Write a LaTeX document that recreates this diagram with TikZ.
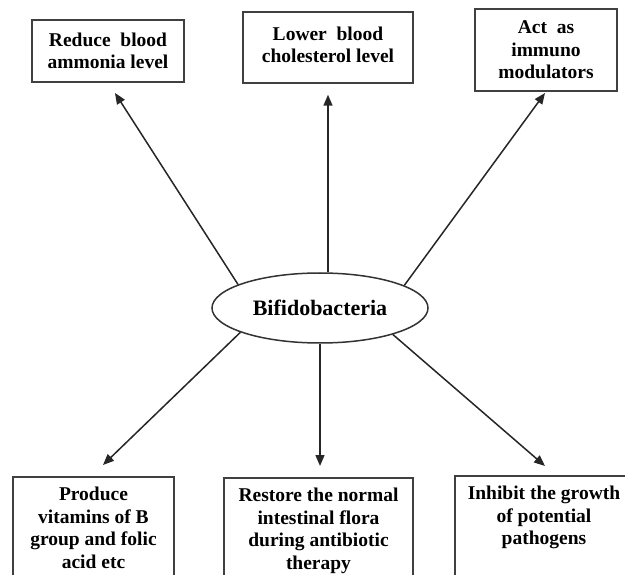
\documentclass[tikz,border=0pt]{standalone}
\usepackage{fontspec}
\setmainfont{Liberation Serif}
\usetikzlibrary{arrows.meta,shapes.geometric}
\begin{document}
\begin{tikzpicture}[x=1pt,y=-1pt,
  box/.style={draw=black!75,line width=1.5pt,inner sep=0pt},
  boxtext/.style={align=center,font=\fontsize{19.5}{22.5}\selectfont\bfseries,inner sep=0pt},
  arr/.style={draw=black!85,line width=1.5pt,-{Triangle[length=11pt,width=9pt]}}]
\useasboundingbox (0,0) rectangle (625,575);
\clip (0,0) rectangle (625,575);
% top boxes
\node[box,minimum width=152pt,minimum height=62pt] (b1) at (108,51) {};
\node[boxtext] (t1) at (b1) {Reduce~~blood\\ammonia level};
\node[box,minimum width=170pt,minimum height=71pt] (b2) at (328,47.5) {};
\node[boxtext] (t2) at (328,45) {Lower~~blood\\cholesterol level};
\node[box,minimum width=142pt,minimum height=82pt] (b3) at (546,50) {};
\node[boxtext] (t3) at (b3) {Act~~as\\immuno\\modulators};
% centre
\node[draw=black!80,line width=1.5pt,ellipse,minimum width=216pt,minimum height=70pt,inner sep=0pt,
      font=\fontsize{22}{26}\selectfont\bfseries] (ell) at (320,308) {Bifidobacteria};
% bottom boxes
\node[box,anchor=north,minimum width=161pt,minimum height=130pt] (b4) at (93.5,476) {};
\node[boxtext,anchor=north] (t4) at ([yshift=-11pt]b4.north) {Produce\\vitamins of B\\group and folic\\acid etc};
\node[box,anchor=north,minimum width=189pt,minimum height=130pt] (b5) at (318.5,477) {};
\node[boxtext,anchor=north] (t5) at ([yshift=-11pt]b5.north) {Restore the normal\\intestinal flora\\during antibiotic\\therapy};
\node[box,anchor=north,minimum width=178pt,minimum height=130pt] (b6) at (544,475) {};
\node[boxtext,anchor=north] (t6) at ([yshift=-11pt]b6.north) {Inhibit the growth\\of potential\\pathogens};
% arrow tips
\coordinate (p1) at (115,93);
\coordinate (p3) at (545,93);
\coordinate (p4) at (103,465);
\coordinate (p5) at (320,466);
\coordinate (p6) at (545,466);
\draw[arr] (ell.164) -- (p1);
\draw[arr,shorten >=11pt] (b2 |- ell.north) -- (b2.south);
\draw[arr] (ell.15) -- (p3);
\draw[arr] (ell.197) -- (p4);
\draw[arr] (ell.south) -- (p5);
\draw[arr] (ell.340) -- (p6);
\end{tikzpicture}
\end{document}
